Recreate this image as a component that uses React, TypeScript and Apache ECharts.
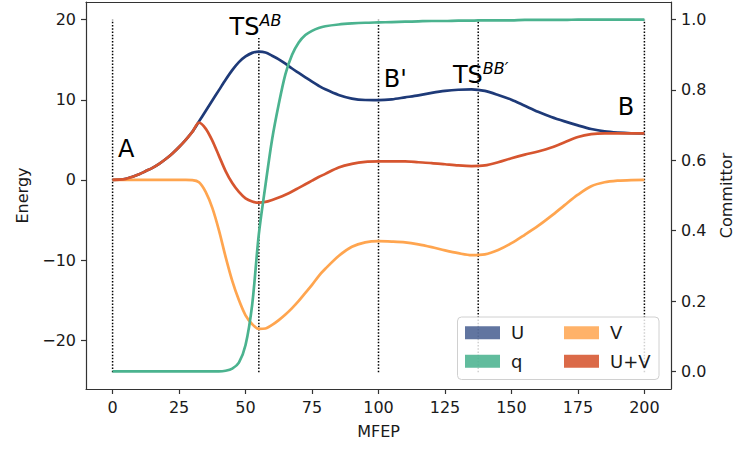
import React, { useEffect, useRef } from "react";
import * as echarts from "echarts";

// MFEP positions (shared by all curves)
const xs = [
  0, 2.5, 5, 7.5, 10, 12.5, 15, 17.5, 20, 22.5, 25, 27.5, 30, 32.5, 35, 37.5, 40, 42.5, 45, 47.5,
  50, 52.5, 55, 57.5, 60, 62.5, 65, 67.5, 70, 72.5, 75, 77.5, 80,
  85, 90, 95, 100, 105, 110, 115, 120, 125, 130, 135, 140, 145, 150, 155, 160, 165, 170, 175, 180, 185, 190, 195, 200,
];

const uVals = [
  0, 0.02, 0.12, 0.4, 0.7, 1.1, 1.5, 2.0, 2.6, 3.3, 4.1, 5.0, 6.0, 7.3, 8.6, 9.9, 11.2, 12.5, 13.7, 14.7,
  15.4, 15.85, 16.0, 15.9, 15.5, 15.05, 14.5, 13.9, 13.35, 12.8, 12.25, 11.75, 11.3,
  10.6, 10.15, 9.97, 9.95, 10.05, 10.3, 10.55, 10.85, 11.1, 11.25, 11.3, 11.1, 10.6, 10.0, 9.25, 8.5, 7.85, 7.3, 6.8, 6.35, 6.05, 5.9, 5.82, 5.8,
];

const vVals = [
  0, 0, 0, 0, 0, 0, 0, 0, 0, 0, 0, 0, -0.02, -0.3, -1.5, -3.5, -6.3, -9.6, -12.6, -15.0,
  -16.9, -18.0, -18.6, -18.55, -18.1, -17.5, -16.8, -16.0, -15.1, -14.1, -13.1, -12.0, -11.1,
  -9.5, -8.35, -7.8, -7.65, -7.7, -7.8, -8.05, -8.4, -8.8, -9.15, -9.4, -9.3, -8.75, -7.9, -6.85, -5.75, -4.5, -3.15, -1.85, -0.8, -0.3, -0.1, -0.02, 0,
];

const uvVals = [
  0, 0.02, 0.12, 0.4, 0.7, 1.1, 1.5, 2.0, 2.6, 3.3, 4.1, 5.0, 6.0, 7.15, 6.4, 4.9, 3.0, 1.1, -0.4, -1.5,
  -2.3, -2.7, -2.85, -2.75, -2.5, -2.2, -1.85, -1.45, -1.0, -0.55, -0.1, 0.35, 0.75,
  1.55, 2.0, 2.25, 2.3, 2.3, 2.3, 2.2, 2.1, 1.95, 1.8, 1.72, 1.8, 2.2, 2.7, 3.15, 3.55, 4.05, 4.7, 5.35, 5.7, 5.8, 5.8, 5.8, 5.8,
];

const qVals = [
  0, 0, 0, 0, 0, 0, 0, 0, 0, 0, 0, 0, 0, 0, 0, 0, 0, 0.002, 0.008, 0.025,
  0.075, 0.19, 0.39, 0.53, 0.66, 0.76, 0.845, 0.9, 0.935, 0.956, 0.968, 0.976, 0.981,
  0.986, 0.989, 0.991, 0.992, 0.993, 0.994, 0.995, 0.996, 0.996, 0.997, 0.997, 0.998, 0.998, 0.998, 0.999, 0.999, 0.999, 0.999, 1, 1, 1, 1, 1, 1,
];

const xTicks = [0, 25, 50, 75, 100, 125, 150, 175, 200];
const energyTicks = [-20, -10, 0, 10, 20];
const committorTicks = [0, 0.2, 0.4, 0.6, 0.8, 1.0];

// vertical dotted markers (x, top energy); all reach down to the same bottom energy
const vlineX = [0, 55, 100, 137.5, 200];
const vlineTop = [20, 17.7, 20, 20, 20];
const vlineBottom = -24;

// state annotations: main text, superscript, anchor (left / baseline) in data coords
const annMain = ["A", "TS", "B'", "TS", "B"];
const annSup = ["", "AB", "", "BB\u2032", ""];
const annX = [2, 44, 102, 128, 190];
const annY = [2.8, 18, 11.6, 12, 8];

const seriesNames = ["U", "V", "U+V", "q"];
const lineColors = ["#1e3a78", "#ffa54f", "#d6552f", "#4bb38f"];
const patchColors = ["rgba(30,58,120,0.7)", "rgba(255,165,79,0.85)", "rgba(214,85,47,0.88)", "rgba(75,179,143,0.88)"];

const FONT = '"DejaVu Sans", sans-serif';
const TXT = "#1a1a1a";

const fmtE = (v: number) => (v < 0 ? "\u2212" + Math.abs(v) : String(v));

export default function App() {
  const ref = useRef<HTMLDivElement>(null);

  useEffect(() => {
    const chart = echarts.init(ref.current!, null, { renderer: "svg" });
    const pair = (ys: number[]) => xs.map((x, i) => [x, ys[i]]);
    const axisLineStyle = { color: "#333", width: 1.2 };

    const curve = (idx: number, ys: number[], yAxisIndex: number) => ({
      type: "line",
      name: seriesNames[idx],
      data: pair(ys),
      yAxisIndex,
      showSymbol: false,
      symbol: "none",
      smooth: 0.3,
      color: lineColors[idx],
      lineStyle: { color: lineColors[idx], width: 2.7 },
      z: 2,
    });

    const vlines = vlineX.map((x, i) => ({
      type: "line",
      name: "marker" + i,
      data: [
        [x, vlineBottom],
        [x, vlineTop[i]],
      ],
      yAxisIndex: 0,
      symbol: "none",
      silent: true,
      lineStyle: { color: "#000", width: 1.5, type: [1.5, 1.7] },
      z: 1,
    }));

    const legendCommon = {
      orient: "vertical",
      icon: "rect",
      itemWidth: 35,
      itemHeight: 13,
      itemGap: 10.6,
      padding: 0,
      z: 6,
      selectedMode: false,
      textStyle: { fontSize: 18, color: TXT, fontFamily: FONT, lineHeight: 18, padding: [0, 0, 0, 6] },
    };
    const legItem = (i: number) => ({ name: seriesNames[i], itemStyle: { color: patchColors[i], borderWidth: 0 } });

    const option: any = {
      animation: false,
      textStyle: { fontFamily: FONT },
      grid: { left: 86, right: 64, top: 2, bottom: 60, containLabel: false, outerBoundsMode: "none" },
      xAxis: [
        {
          type: "value",
          min: -10,
          max: 210,
          position: "bottom",
          axisLine: { show: true, onZero: false, lineStyle: axisLineStyle },
          axisTick: { show: true, length: 5, customValues: xTicks, lineStyle: axisLineStyle },
          axisLabel: { customValues: xTicks, fontSize: 16, color: TXT, margin: 10 },
          splitLine: { show: false },
          name: "MFEP",
          nameLocation: "middle",
          nameGap: 34,
          nameTextStyle: { fontSize: 16, color: TXT },
        },
        {
          type: "value",
          min: -10,
          max: 210,
          position: "top",
          axisLine: { show: true, onZero: false, lineStyle: axisLineStyle },
          axisTick: { show: false },
          axisLabel: { show: false },
          splitLine: { show: false },
        },
      ],
      yAxis: [
        {
          type: "value",
          min: -26.1,
          max: 22.2,
          position: "left",
          axisLine: { show: true, onZero: false, lineStyle: axisLineStyle },
          axisTick: { show: true, length: 5, customValues: energyTicks, lineStyle: axisLineStyle },
          axisLabel: { customValues: energyTicks, fontSize: 16, color: TXT, margin: 10, formatter: fmtE },
          splitLine: { show: false },
          name: "Energy",
          nameLocation: "middle",
          nameRotate: 90,
          nameGap: 56,
          nameTextStyle: { fontSize: 16, color: TXT },
        },
        {
          type: "value",
          min: -0.05,
          max: 1.05,
          position: "right",
          axisLine: { show: true, onZero: false, lineStyle: axisLineStyle },
          axisTick: { show: true, length: 5, customValues: committorTicks, lineStyle: axisLineStyle },
          axisLabel: {
            customValues: committorTicks,
            fontSize: 16,
            color: TXT,
            margin: 10,
            formatter: (v: number) => v.toFixed(1),
          },
          splitLine: { show: false },
          name: "Committor",
          nameLocation: "middle",
          nameRotate: 90,
          nameGap: 47,
          nameTextStyle: { fontSize: 16, color: TXT },
        },
      ],
      legend: [
        { ...legendCommon, left: 465, top: 323.7, data: [legItem(0), legItem(3)] },
        { ...legendCommon, left: 564, top: 323.7, data: [legItem(1), legItem(2)] },
      ],
      series: [
        ...vlines,
        curve(0, uVals, 0),
        curve(1, vVals, 0),
        curve(2, uvVals, 0),
        curve(3, qVals, 1),
      ],
    };

    chart.setOption(option);

    // annotations placed through the chart's own coordinate conversion
    const ctx = document.createElement("canvas").getContext("2d")!;
    const mainSize = 24;
    const supSize = 16;
    const elements: any[] = [
      {
        type: "rect",
        z: 5,
        shape: { x: 457.5, y: 317, width: 201.5, height: 62.5, r: 4 },
        style: { fill: "rgba(255,255,255,0.82)", stroke: "#d0d0d0", lineWidth: 1 },
      },
    ];
    annMain.forEach((txt, i) => {
      const p = chart.convertToPixel({ xAxisIndex: 0, yAxisIndex: 0 }, [annX[i], annY[i]]) as number[];
      const baseline = p[1];
      elements.push({
        type: "text",
        z: 10,
        x: p[0],
        y: baseline - 0.346 * mainSize,
        style: { text: txt, fontSize: mainSize, fontFamily: FONT, fill: "#000", align: "left", verticalAlign: "middle" },
      });
      if (annSup[i]) {
        ctx.font = `${mainSize}px "DejaVu Sans"`;
        const w = ctx.measureText(txt).width;
        elements.push({
          type: "text",
          z: 10,
          x: p[0] + w,
          y: baseline - 10 - 0.346 * supSize,
          style: {
            text: annSup[i],
            fontSize: supSize,
            fontStyle: "italic",
            fontFamily: FONT,
            fill: "#000",
            align: "left",
            verticalAlign: "middle",
          },
        });
      }
    });
    chart.setOption({ graphic: { elements } });

    return () => chart.dispose();
  }, []);

  return <div ref={ref} style={{ position: "absolute", left: 0, top: 0, width: 735, height: 449 }} />;
}
